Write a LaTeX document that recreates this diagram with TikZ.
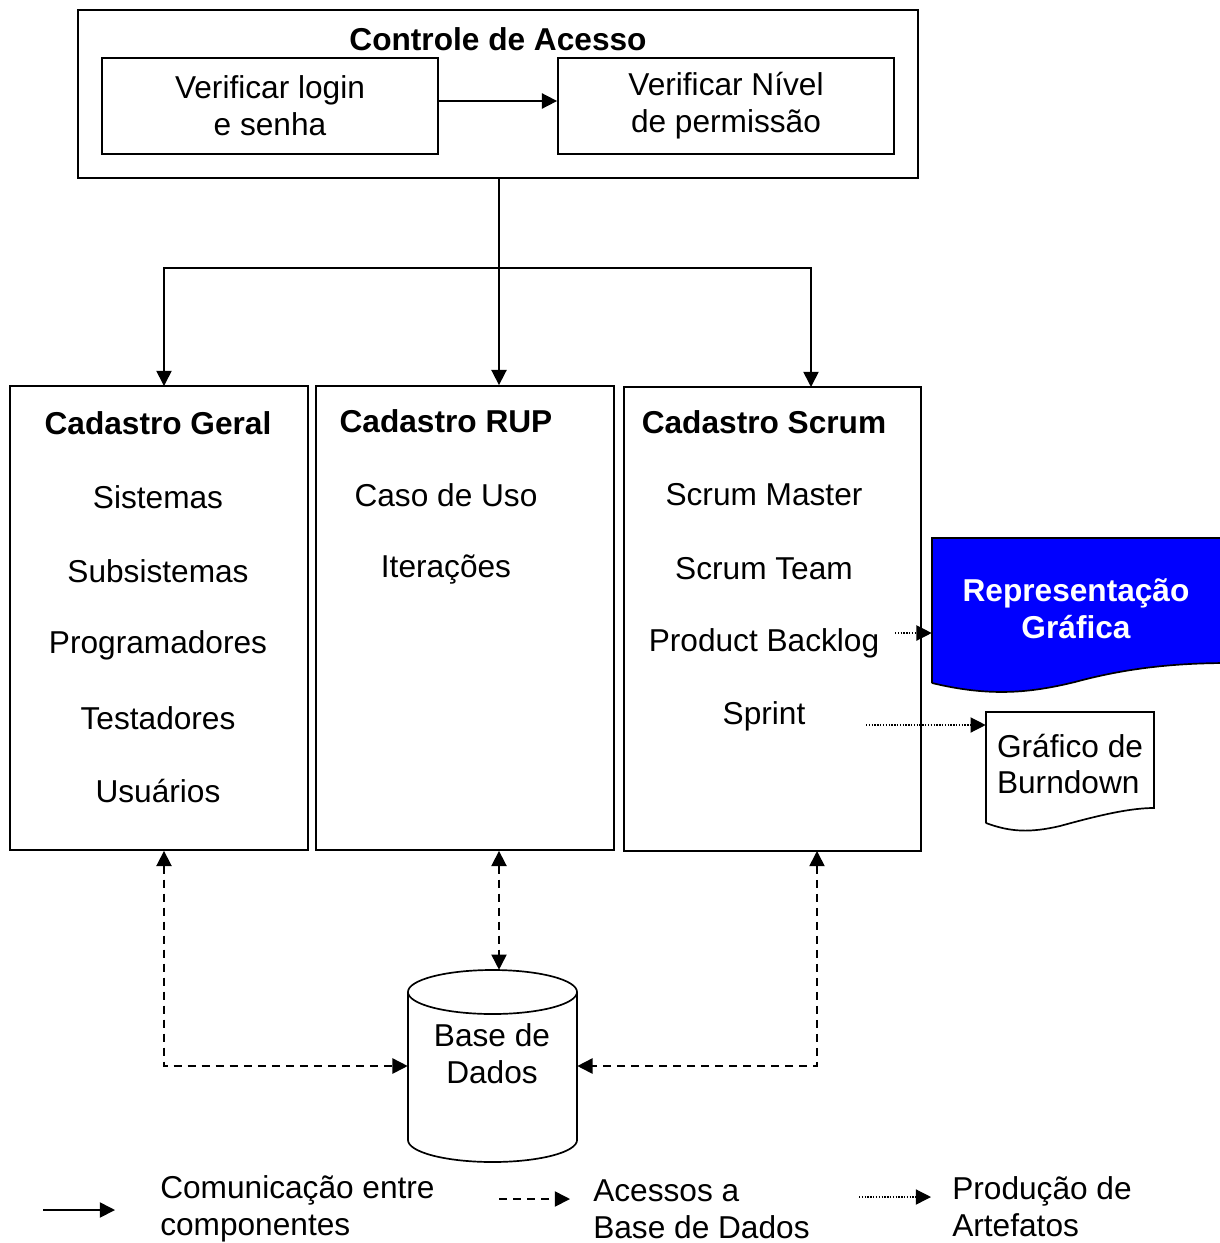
\documentclass[tikz,border=0pt]{standalone}
\usepackage{fontspec}
\setmainfont{Liberation Sans}
\usetikzlibrary{arrows.meta}
\tikzset{
  >={Triangle[length=0.38cm,width=0.38cm]},
  linha/.style={line width=1.2pt},
  caixa/.style={draw, linha, inner sep=0pt},
  texto/.style={font=\fontsize{22.5}{26.2}\selectfont, align=center, inner sep=0pt},
  titulo/.style={texto, font=\fontsize{22.5}{26.2}\selectfont\bfseries},
  seta/.style={linha, ->},
  acessodb/.style={linha, dash pattern=on 0.2cm off 0.15cm},
  produz/.style={line width=0.9pt, dash pattern=on 1pt off 1pt, ->}
}
\begin{document}
\begin{tikzpicture}[x=0.025cm, y=-0.025cm]
  \useasboundingbox (0,0) rectangle (1219,1243);
  \node[caixa, minimum width=21cm, minimum height=4.2cm] (acesso) at (498,94) {};
  \node[titulo] (tacesso) at (498,39) {Controle de Acesso};
  \node[caixa, texto, minimum width=8.4cm, minimum height=2.4cm] (login) at (270,106) {Verificar login\\e senha};
  \node[caixa, texto, minimum width=8.4cm, minimum height=2.4cm] (nivel) at (726,106) {Verificar Nível\\de permissão};
  \coordinate (saida) at (438,101);
  \draw[seta] (saida) -- (saida -| nivel.west);

  \node[caixa, minimum width=7.45cm, minimum height=11.6cm] (geral) at (159,618) {};
  \node[caixa, minimum width=7.45cm, minimum height=11.6cm] (rup) at (465,618) {};
  \node[caixa, minimum width=7.425cm, minimum height=11.6cm] (scrum) at (772.5,619) {};

  \coordinate (ramo) at (499,268);
  \coordinate (ageral) at (164,386);
  \coordinate (ascrum) at (811,387);
  \draw[linha] (acesso.south -| ramo) -- (ramo);
  \draw[seta] (ramo) -| (ageral);
  \draw[seta] (ramo) -- (rup.north -| ramo);
  \draw[seta] (ramo) -| (ascrum);

  \node[titulo] (tgeral) at (158,423) {Cadastro Geral};
  \node[texto] (sistemas) at (158,497) {Sistemas};
  \node[texto] (subsistemas) at (158,571) {Subsistemas};
  \node[texto] (programadores) at (158,645) {Programadores};
  \node[texto] (testadores) at (158,718) {Testadores};
  \node[texto] (usuarios) at (158,791) {Usuários};

  \node[titulo] (trup) at (446,421) {Cadastro RUP};
  \node[texto] (casouso) at (446,495) {Caso de Uso};
  \node[texto] (iteracoes) at (446,569) {Iterações};

  \node[titulo] (tscrum) at (764,422) {Cadastro Scrum};
  \node[texto] (master) at (764,495) {Scrum Master};
  \node[texto] (team) at (764,569) {Scrum Team};
  \node[texto] (backlog) at (764,643) {Product Backlog};
  \node[texto] (sprint) at (764,716) {Sprint};

  \draw[linha, fill=blue] (932,683) -- (932,538) -- (1230,538) -- (1230,663)
    .. controls (1180,663) and (1130,667) .. (1075,682)
    .. controls (1030,693) and (990,697) .. (932,683);
  \node[minimum width=7.175cm, minimum height=3.8cm, inner sep=0pt] (repr) at (1075.5,614) {};
  \node[titulo, text=white] (trepr) at (1076,609) {Representação\\Gráfica};

  \draw[linha, fill=white] (986,823) -- (986,712) -- (1154,712) -- (1154,808)
    .. controls (1130,808) and (1100,815) .. (1060,826)
    .. controls (1030,833) and (1010,832) .. (986,823);
  \node[minimum width=4.2cm, minimum height=3cm, inner sep=0pt] (burn) at (1070,772) {};
  \node[texto, align=left] (tburn) at (1070,764) {Gráfico de\\Burndown};

  \coordinate (origem1) at (895,633);
  \coordinate (origem2) at (866,725);
  \draw[produz] (origem1) -- (origem1 -| repr.west);
  \draw[produz] (origem2) -- (origem2 -| burn.west);

  \node[minimum width=4.225cm, minimum height=4.8cm, inner sep=0pt] (base) at (492.5,1066) {};
  \draw[linha, fill=white] (408,992) -- (408,1140)
    arc[start angle=180, end angle=360, x radius=2.1125cm, y radius=0.55cm] -- (577,992);
  \draw[linha] (492.5,992) ellipse[x radius=2.1125cm, y radius=0.55cm];
  \node[texto] (tbase) at (492,1054) {Base de\\Dados};

  \coordinate (dscrum) at (817,851);
  \draw[acessodb, <->] (geral.south -| ageral) |- (base.west);
  \draw[acessodb, <->] (rup.south -| ramo) -- (base.north -| ramo);
  \draw[acessodb, <->] (dscrum) |- (base.east);

  \coordinate (l1a) at (43,1210);
  \coordinate (l1b) at (115,1210);
  \coordinate (l2a) at (499,1199);
  \coordinate (l2b) at (570,1199);
  \coordinate (l3a) at (859,1197);
  \coordinate (l3b) at (931,1197);
  \draw[seta] (l1a) -- (l1b);
  \draw[acessodb, ->] (l2a) -- (l2b);
  \draw[produz] (l3a) -- (l3b);
  \node[texto, anchor=west, align=left] (leg1) at (160,1209) {Comunicação entre\\componentes};
  \node[texto, anchor=west, align=left] (leg2) at (593,1209) {Acessos a\\Base de Dados};
  \node[texto, anchor=west, align=left] (leg3) at (952,1207) {Produção de\\Artefatos};
\end{tikzpicture}
\end{document}
